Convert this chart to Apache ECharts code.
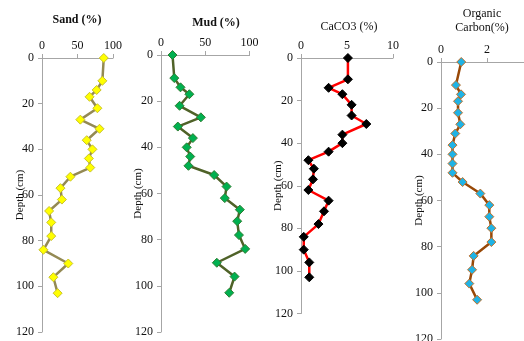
<!DOCTYPE html>
<html>
<head>
<meta charset="utf-8">
<script src="https://cdn.jsdelivr.net/npm/echarts@6/dist/echarts.min.js"></script>
<style>
  html, body { margin: 0; padding: 0; background: #fff; }
  #chart { width: 524px; height: 341px; }
</style>
</head>
<body>
<div id="chart"></div>
<script>
// depth of each sample (cm), shared by all four profiles
const depth = [0, 10, 14, 17, 22, 27, 31, 36, 40, 44, 48, 52, 57, 62, 67, 72, 78, 84, 90, 96, 103];
const sand = [87, 85, 77, 67, 78, 54, 81, 63, 71, 66, 68, 40, 26, 28, 10, 13, 13, 2, 37, 16, 22];
const mud = [13, 15, 22, 32, 21, 45, 19, 36, 29, 33, 31, 60, 74, 72, 89, 86, 88, 95, 63, 83, 77];
const caco3 = [5.1, 5.1, 3.0, 4.5, 5.5, 5.5, 7.1, 4.5, 4.5, 3.0, 0.8, 1.4, 1.3, 0.8, 3.0, 2.5, 1.9, 0.3, 0.3, 0.9, 0.9];
const organicC = [0.88, 0.65, 0.87, 0.74, 0.74, 0.84, 0.62, 0.5, 0.5, 0.5, 0.5, 0.94, 1.71, 2.1, 2.1, 2.19, 2.19, 1.42, 1.35, 1.23, 1.57];

const depthMax = 120;
const depthStep = 20;
const xMax = [100, 100, 10, 4];
const xStep = [50, 50, 5, 2];
const titles = ['Sand (%)', 'Mud (%)', 'CaCO3 (%)', 'Organic\nCarbon(%)'];

const FONT = '"Liberation Serif", "Times New Roman", serif';
const axisColor = '#A6A6A6';
const textColor = '#111';

const chart = echarts.init(document.getElementById('chart'));

const grids = [
    { left: 42, top: 58, width: 71, height: 274 },
    { left: 161, top: 55, width: 88.6, height: 277 },
    { left: 301, top: 58, width: 92, height: 255.5 },
    { left: 441, top: 62, width: 92, height: 277 },
];

const styles = [
    { line: '#948A54', fill: '#FFFF00', border: '#C9C22A' },
    { line: '#4F6228', fill: '#00B050', border: '#2E7D32' },
    { line: '#FF0000', fill: '#000000', border: '#000000' },
    { line: '#984807', fill: '#1FB3E6', border: '#C0702A' },
];

const values = [sand, mud, caco3, organicC];
const nameGaps = [16, 17, 17, 16];

const xAxes = grids.map((g, i) => ({
    type: 'value',
    gridIndex: i,
    position: 'top',
    min: 0,
    max: xMax[i],
    interval: xStep[i],
    axisLine: { show: true, lineStyle: { color: axisColor, width: 1 } },
    axisTick: { show: true, length: 4, lineStyle: { color: axisColor } },
    axisLabel: { color: textColor, fontFamily: FONT, fontSize: 12, margin: 6 },
    splitLine: { show: false },
}));

const yAxes = grids.map((g, i) => ({
    type: 'value',
    gridIndex: i,
    inverse: true,
    min: 0,
    max: depthMax,
    interval: depthStep,
    name: 'Depth (cm)',
    nameLocation: 'middle',
    nameGap: nameGaps[i],
    nameMoveOverlap: false,
    nameTextStyle: { color: textColor, fontFamily: FONT, fontSize: 11 },
    axisLine: { show: true, lineStyle: { color: axisColor, width: 1 } },
    axisTick: { show: true, length: 4, lineStyle: { color: axisColor } },
    axisLabel: { color: textColor, fontFamily: FONT, fontSize: 12, margin: 8 },
    splitLine: { show: false },
}));

const series = values.map((vals, i) => ({
    type: 'line',
    xAxisIndex: i,
    yAxisIndex: i,
    data: vals.map((v, k) => [v, depth[k]]),
    symbol: 'diamond',
    symbolSize: 9,
    lineStyle: { color: styles[i].line, width: 2.5 },
    itemStyle: { color: styles[i].fill, borderColor: styles[i].border, borderWidth: 1 },
    emphasis: { disabled: true },
    animation: false,
    z: 3,
}));

const titlePos = [
    { x: 77, y: 20, bold: true },
    { x: 216, y: 23, bold: true },
    { x: 349, y: 27, bold: false },
    { x: 482, y: 21, bold: false },
];

const option = {
    backgroundColor: '#fff',
    animation: false,
    grid: grids.map(g => ({ ...g, containLabel: false, outerBoundsMode: 'none' })),
    xAxis: xAxes,
    yAxis: yAxes,
    series: series,
    graphic: titles.map((t, i) => ({
        type: 'text',
        x: titlePos[i].x,
        y: titlePos[i].y,
        style: {
            text: t,
            fill: textColor,
            font: (titlePos[i].bold ? 'bold ' : '') + '12px ' + FONT,
            align: 'center',
            verticalAlign: 'middle',
            lineHeight: 14,
        },
    })),
};

chart.setOption(option);
</script>
</body>
</html>
